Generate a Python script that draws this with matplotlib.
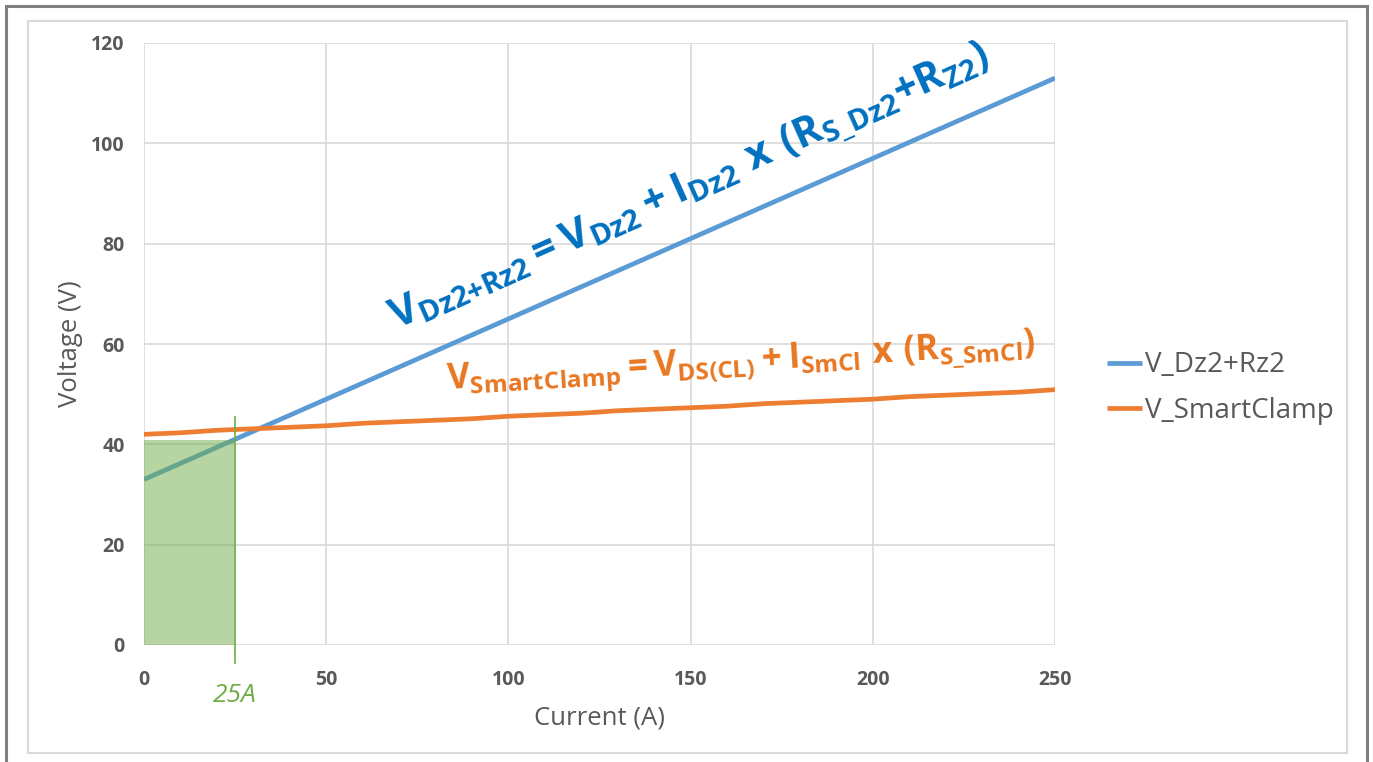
import matplotlib
matplotlib.use("Agg")
import matplotlib.pyplot as plt
from matplotlib.patches import Rectangle
from matplotlib.lines import Line2D

plt.rcParams['font.family'] = ['Open Sans', 'DejaVu Sans']
plt.rcParams['mathtext.fontset'] = 'custom'
plt.rcParams['mathtext.bf'] = 'Open Sans:bold'
plt.rcParams['mathtext.rm'] = 'Open Sans'

# Data
current = [0, 10, 20, 30, 40, 50, 60, 70, 80, 90, 100, 110, 120, 130, 140, 150,
           160, 170, 180, 190, 200, 210, 220, 230, 240, 250]
v_dz2_rz2 = [33.0, 36.2, 39.4, 42.6, 45.8, 49.0, 52.2, 55.4, 58.6, 61.8, 65.0,
             68.2, 71.4, 74.6, 77.8, 81.0, 84.2, 87.4, 90.6, 93.8, 97.0, 100.2,
             103.4, 106.6, 109.8, 113.0]
v_smartclamp = [42.0, 42.3, 42.8, 43.1, 43.4, 43.7, 44.2, 44.5, 44.8, 45.1, 45.6,
                45.9, 46.2, 46.7, 47.0, 47.3, 47.6, 48.1, 48.4, 48.7, 49.0, 49.5,
                49.8, 50.1, 50.4, 50.9]
series_names = ['V_Dz2+Rz2', 'V_SmartClamp']
limit_current = 25
limit_voltage = 40.8
xticks = [0, 50, 100, 150, 200, 250]
yticks = [0, 20, 40, 60, 80, 100, 120]

BLUE = '#5B9BD5'
ORANGE = '#ED7D31'
GREEN = '#70AD47'
TICK = '#595959'

fig = plt.figure(figsize=(13.73, 7.62), dpi=100)
W, H = 1373, 762

# frames
fig.add_artist(Rectangle((6 / W, -0.01), (1367 - 6) / W, (H - 6) / H + 0.01,
                         transform=fig.transFigure, fill=False, ec='#808080', lw=2.2))
fig.add_artist(Rectangle((28 / W, 1 - 753 / H), (1347 - 28) / W, (753 - 21) / H,
                         transform=fig.transFigure, fill=False, ec='#D9D9D9', lw=1.5))

ax = fig.add_axes([144 / W, 1 - 645 / H, (1055 - 144) / W, (645 - 43) / H])
ax.set_xlim(0, 250)
ax.set_ylim(0, 120)
ax.set_xticks(xticks)
ax.set_yticks(yticks)
ax.grid(True, color='#D9D9D9', lw=1.2)
ax.set_axisbelow(True)
for s in ax.spines.values():
    s.set_visible(False)
ax.tick_params(length=0, labelsize=14, colors=TICK, pad=14)
for lab in ax.get_xticklabels() + ax.get_yticklabels():
    lab.set_fontweight('bold')
ax.tick_params(axis='x', pad=18)
ax.set_xlabel('Current (A)', fontsize=18.5, color=TICK, labelpad=11)
ax.set_ylabel('Voltage (V)', fontsize=18.5, color=TICK, labelpad=6)

ax.plot(current, v_dz2_rz2, color=BLUE, lw=3.4, label=series_names[0], solid_capstyle='butt', zorder=3)
ax.plot(current, v_smartclamp, color=ORANGE, lw=3.4, label=series_names[1], solid_capstyle='butt', zorder=3)

ax.add_patch(Rectangle((0, 0), limit_current, limit_voltage, color=GREEN, alpha=0.5, lw=0, zorder=4))
ax.add_line(Line2D([limit_current, limit_current], [45.5, -3.6], color=GREEN, lw=1.2,
                   clip_on=False, zorder=5))
ax.text(limit_current, -10.0, '25A', color=GREEN, fontsize=19, style='italic',
        ha='center', va='center')

ax.text(150, 91, r'$\mathbf{V_{Dz2{+}Rz2} = V_{Dz2} + I_{Dz2}\ x\ (R_{S\_Dz2}{+}R_{Z2})}$',
        color='#0070C0', fontsize=30, rotation=24, rotation_mode='anchor',
        ha='center', va='center')
ax.text(164, 56, r'$\mathbf{V_{SmartClamp} = V_{DS(CL)} + I_{SmCl}\ x\ (R_{S\_SmCl})}$',
        color='#E87722', fontsize=25, rotation=3.5, rotation_mode='anchor',
        ha='center', va='center')

leg = fig.legend(loc='center left', bbox_to_anchor=(1096 / W, 1 - 388 / H), frameon=False,
                 fontsize=20, handlelength=1.25, handletextpad=0.1, labelspacing=0.62,
                 borderaxespad=0)
for t in leg.get_texts():
    t.set_color(TICK)
for h in leg.get_lines():
    h.set_linewidth(3.4)

fig.savefig('out.png', dpi=100)
